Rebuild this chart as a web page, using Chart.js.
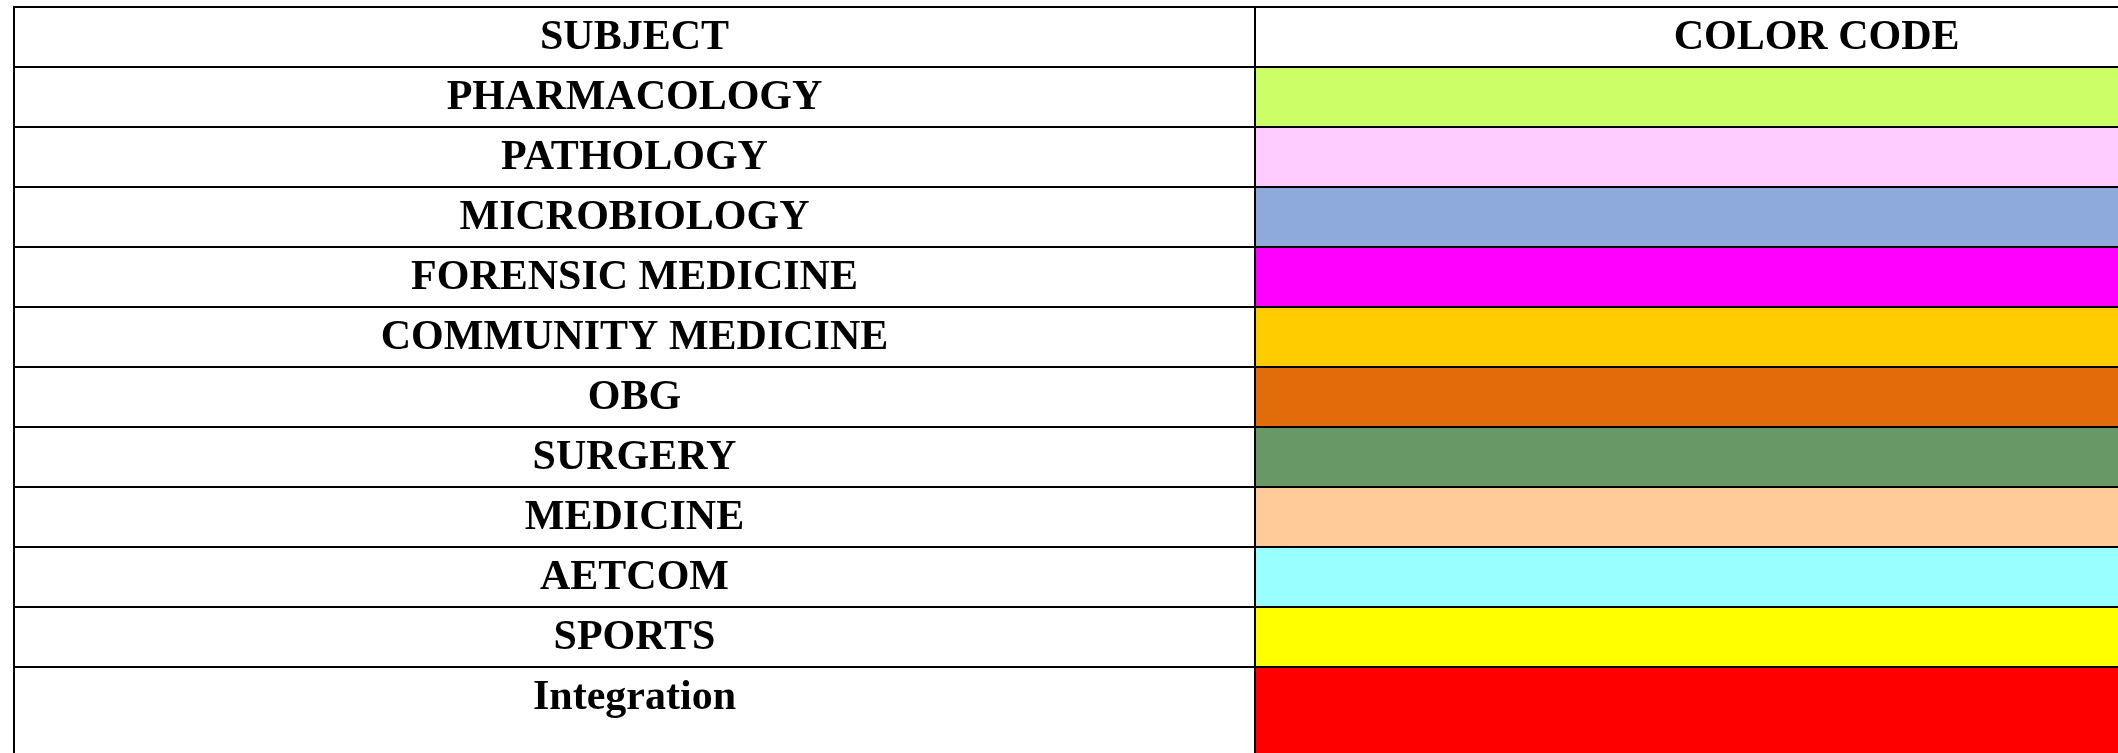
<!DOCTYPE html>
<html>
<head>
<meta charset="utf-8">
<title>Subject colour code</title>
<script src="https://cdn.jsdelivr.net/npm/chart.js@4"></script>
<style>
  html, body { margin: 0; padding: 0; background: #fff; overflow: hidden; }
  /* taller than the window: the tall Integration cell runs past the bottom edge */
  #wrap { width: 2118px; height: 787px; position: relative; }
</style>
</head>
<body>
<div id="wrap"><canvas id="codeChart"></canvas></div>
<script>
// table data
const headers = ['SUBJECT', 'COLOR CODE'];
const subjects = [
  'PHARMACOLOGY', 'PATHOLOGY', 'MICROBIOLOGY', 'FORENSIC MEDICINE',
  'COMMUNITY MEDICINE', 'OBG', 'SURGERY', 'MEDICINE', 'AETCOM', 'SPORTS', 'Integration'
];
const colorCodes = [
  '#CCFF66', '#FFCCFF', '#8EA9DB', '#FF00FF', '#FFCC00', '#E26B0A',
  '#699867', '#FFCC99', '#99FFFF', '#FFFF00', '#FF0000'
];
// column extents in table units: subject column 0..1, colour column 1..1.905
const subjectColumn = [0, 1];
const colorColumn = [1, 1.905];
const viewMax = 1.6954; // the picture is cut off on the right

// header row + subjects + second line of the tall "Integration" cell
const rows = [headers[0], ...subjects, ''];
const barData = [null, ...subjects.map(() => colorColumn), colorColumn];
const barColors = ['rgba(0,0,0,0)', ...colorCodes, colorCodes[colorCodes.length - 1]];

const FONT = 'bold 42px "Liberation Serif"';

// write the cell texts
const cellText = {
  id: 'cellText',
  afterDraw(chart) {
    const { ctx, scales: { x, y } } = chart;
    ctx.save();
    ctx.font = FONT;
    ctx.fillStyle = '#000';
    ctx.textAlign = 'center';
    ctx.textBaseline = 'alphabetic';
    const xSubj = x.getPixelForValue((subjectColumn[0] + subjectColumn[1]) / 2);
    const xCode = x.getPixelForValue((colorColumn[0] + colorColumn[1]) / 2);
    rows.forEach((label, i) => {
      if (!label) return;
      ctx.fillText(label, xSubj, y.getPixelForValue(i) + 12);
    });
    ctx.fillText(headers[1], xCode, y.getPixelForValue(0) + 12);
    ctx.restore();
  }
};

function drawTable() {
  new Chart(document.getElementById('codeChart'), {
    type: 'bar',
    data: {
      labels: rows,
      datasets: [{
        data: barData,
        backgroundColor: barColors,
        borderWidth: 0,
        barPercentage: 1,
        categoryPercentage: 1
      }]
    },
    options: {
      indexAxis: 'y',
      responsive: true,
      maintainAspectRatio: false,
      animation: false,
      layout: { padding: { top: 7, left: 14, right: 0, bottom: 0 } },
      plugins: { legend: { display: false }, tooltip: { enabled: false } },
      scales: {
        x: {
          type: 'linear',
          position: 'top',
          min: 0,
          max: viewMax,
          afterBuildTicks: axis => { axis.ticks = [{ value: subjectColumn[0] }, { value: colorColumn[0] }]; },
          ticks: { display: false },
          border: { display: false },
          grid: { color: '#000', lineWidth: 2, drawTicks: false, z: 1 }
        },
        y: {
          type: 'category',
          offset: true,
          ticks: { display: false },
          border: { display: true, color: '#000', width: 2, z: 1 },
          grid: {
            offset: true,
            drawTicks: false,
            lineWidth: 2,
            z: 1,
            // no line inside the tall Integration cell
            color: c => (c.index === rows.length - 1 ? 'rgba(0,0,0,0)' : '#000')
          }
        }
      }
    },
    plugins: [cellText]
  });
}

document.fonts.load(FONT).then(drawTable, drawTable);
</script>
</body>
</html>
